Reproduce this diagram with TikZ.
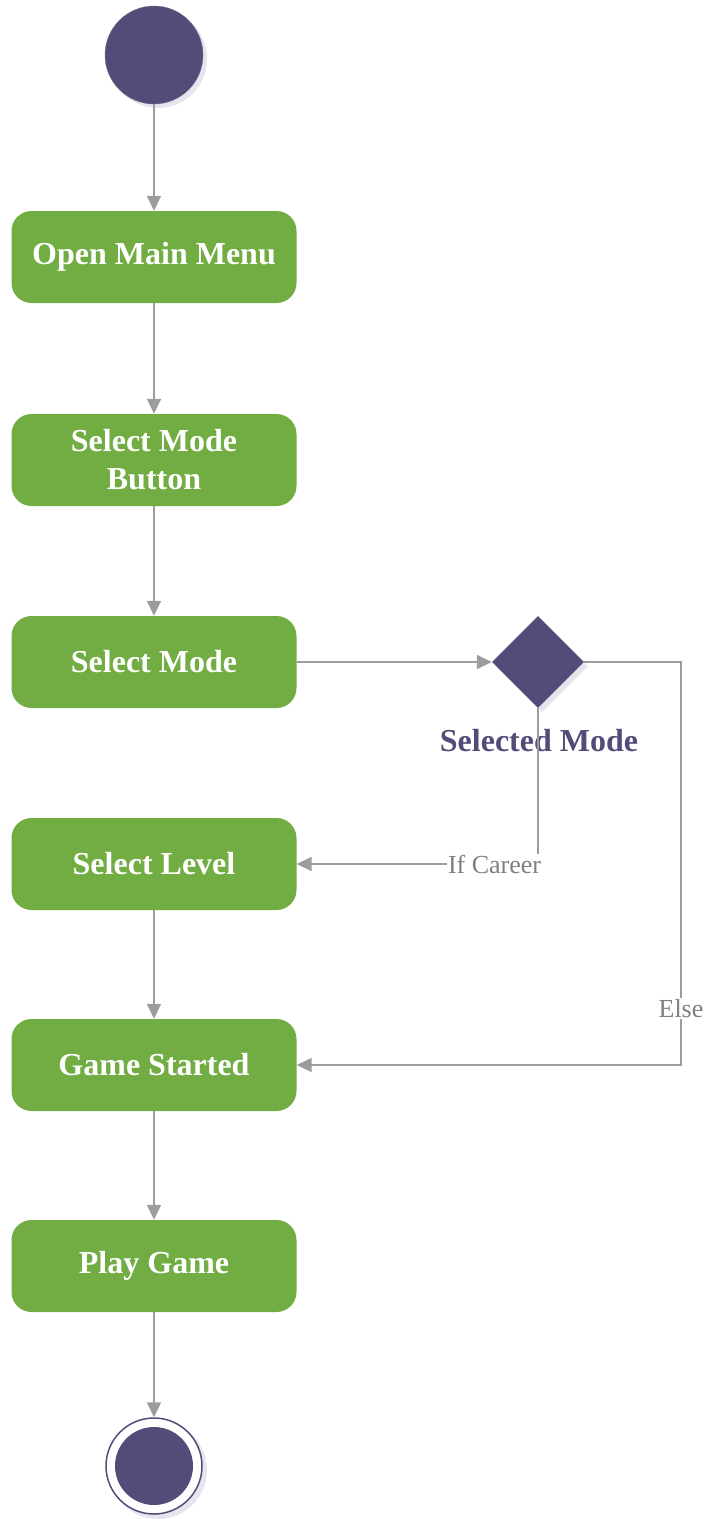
\documentclass[tikz,border=0pt]{standalone}
\usepackage{fontspec}
\setmainfont{Liberation Serif}
\usetikzlibrary{shapes.geometric,arrows.meta}
\definecolor{actgreen}{HTML}{72AD43}
\definecolor{umlpurple}{HTML}{544C78}
\definecolor{shadowgray}{HTML}{E6E4EC}
\definecolor{flowgray}{HTML}{9C9C9C}
\definecolor{labelgray}{HTML}{808080}
\tikzset{
  activity/.style={rectangle, rounded corners=20pt, fill=actgreen, draw=none,
    minimum width=285pt, minimum height=92pt, align=center, text=white,
    font=\fontsize{32}{38}\selectfont\bfseries},
  flow/.style={draw=flowgray, line width=1.6pt, -{Triangle[length=15pt,width=14pt]}},
  guard/.style={font=\fontsize{26}{30}\selectfont, text=labelgray, fill=white, inner sep=1pt},
}
\begin{document}
\begin{tikzpicture}[x=1pt,y=-1pt]
\useasboundingbox (0,0) rectangle (708,1519);

% initial node
\fill[shadowgray] (158,59) circle (49);
\node[circle, fill=umlpurple, draw=umlpurple!80, minimum size=98pt, inner sep=0] (start) at (154,55) {};

% activities
\node[activity] (menu)   at (154,257)  {Open Main Menu};
\node[activity] (button) at (154,460)  {Select Mode\\Button};
\node[activity] (mode)   at (154,662)  {Select Mode};
\node[activity] (level)  at (154,864)  {Select Level};
\node[activity] (game)   at (154,1065) {Game Started};
\node[activity] (play)   at (154,1266) {Play Game};

% decision
\fill[shadowgray] (542,620) -- (588,666) -- (542,712) -- (496,666) -- cycle;
\node[diamond, fill=umlpurple, minimum width=92pt, minimum height=92pt, inner sep=0, aspect=1] (dec) at (538,662) {};
\node[text=umlpurple, font=\fontsize{32}{38}\selectfont\bfseries] (declabel) at (539,741) {Selected Mode};

% final node
\fill[shadowgray] (158,1470) circle (49);
\node[circle, fill=white, draw=umlpurple, line width=1.5pt, minimum size=96pt, inner sep=0] (final) at (154,1466) {};
\fill[umlpurple] (final.center) circle (39);

% control flows
\draw[flow] (start) -- (menu);
\draw[flow] (menu) -- (button);
\draw[flow] (button) -- (mode);
\draw[flow] (mode) -- (dec);
\draw[flow] (level) -- (game);
\draw[flow] (game) -- (play);
\draw[flow] (play) -- (final);
\draw[flow] (dec.south) |- (level.east) node[guard, pos=0.59] {If Career};
\draw[flow] (dec.east) -| (681,1065) node[guard, pos=0.93] {Else} -- (game.east);
\end{tikzpicture}
\end{document}
